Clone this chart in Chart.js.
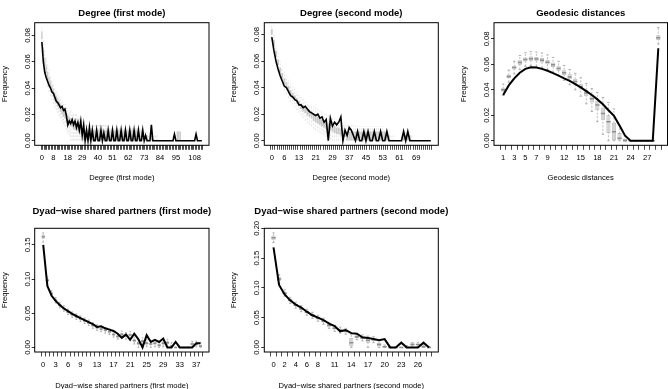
<!DOCTYPE html>
<html>
<head>
<meta charset="utf-8">
<script src="https://cdn.jsdelivr.net/npm/chart.js@4.4.1/dist/chart.umd.min.js"></script>
<style>
  html, body { margin: 0; padding: 0; background: #fff; overflow: hidden; }
  body { width: 668px; height: 389px; position: relative; }
  canvas { position: absolute; }
</style>
</head>
<body>
<script>
// ---- Degree (first mode) ----
const deg1Cats = [0,1,2,3,4,5,6,7,8,9,10,11,12,13,14,15,16,17,18,19,20,21,22,23,24,25,26,27,
  29,30,31,32,33,34,35,36,37,38,39,40,41,42,43,44,
  46,47,48,49,50,51,52,53,54,55,56,57,58,59,60,61,62,63,64,65,66,67,68,69,70,71,72,73,74,75,
  76,77,78,79,80,81,82,83,84,85,86,87,88,89,90,91,92,93,94,95,96,97,98,99,100,101,102,103,104,
  105,106,107,108,109,110,111,112,113];
const deg1Shown = [0,8,18,29,40,51,62,73,84,95,108];
const deg1Obs = [
  0.075,0.060,0.052,0.048,0.045,0.042,0.040,0.037,0.036,0.033,
  0.030,0.029,0.027,0.025,0.026,0.023,0.024,0.019,0.012,0.015,
  0.013,0.016,0.012,0.015,0.010,0.014,0.008,0.015,0.004,0.012,
  0,0.008,0,0.010,0,0.008,0,0,0.008,0,
  0,0.008,0,0.006,0,0,0.008,0,0,0.008,
  0,0,0.008,0,0,0.008,0,0,0.008,0,
  0,0.008,0,0,0.008,0,0,0.008,0,0,
  0.008,0,0.004,0,0,0,0.012,0,0,0,
  0,0,0,0,0,0,0,0,0,0,
  0,0,0.005,0,0,0,0,0,0,0,
  0,0,0,0,0,0,0,0.005,0,0,
  0,0];
const deg1Q1 = [
  0.077,0.065,0.057,0.051,0.046,0.042,0.039,0.036,0.033,0.030,
  0.028,0.026,0.024,0.022,0.020,0.018,0.017,0.015,0.014,0.012,
  0.011,0.010,0.009,0.008,0.008,0.007,0.006,0.005,0.004,0,
  0,0,0,0,0,0,0,0,0,0, 0,0,0,0,0,0,0,0,0,0,
  0,0,0,0,0,0,0,0,0,0, 0,0,0,0,0,0,0,0,0,0,
  0,0,0,0,0,0,0,0,0,0, 0,0,0,0,0,0,0,0,0,0,
  0,0,0,0,0,0,0,0,0,0, 0,0,0,0,0,0,0,0,0,0,
  0,0];
const deg1Q3 = [
  0.083,0.071,0.063,0.057,0.052,0.048,0.045,0.042,0.039,0.036,
  0.034,0.032,0.030,0.028,0.026,0.024,0.023,0.021,0.020,0.018,
  0.017,0.016,0.015,0.014,0.013,0.012,0.012,0.011,0.010,0.008,
  0.008,0.008,0.008,0.008,0.008,0.008,0.008,0.008,0.008,0.008,
  0.008,0.008,0.008,0.008,0.008,0.008,0.008,0.008,0.008,0.008,
  0.008,0.008,0.008,0.008,0.008,0.008,0.008,0.008,0.008,0.008,
  0.008,0.008,0.008,0.008,0.008,0.008,0.008,0.008,0.004,0.008,
  0.004,0.004,0.004,0.004,0,0,0.004,0,0,0,
  0,0,0,0,0,0,0,0,0,0,
  0,0,0,0,0.007,0.007,0.007,0,0,0,
  0,0,0,0,0,0,0,0,0,0,
  0,0];
const deg1Lo = [
  0.072,0.059,0.051,0.046,0.041,0.037,0.034,0.031,0.028,0.025,
  0.023,0.021,0.019,0.017,0.015,0.013,0.011,0.008,0.006,0.004,
  0,0,0,0,0,0,0,0,0,0, 0,0,0,0,0,0,0,0,0,0,
  0,0,0,0,0,0,0,0,0,0, 0,0,0,0,0,0,0,0,0,0,
  0,0,0,0,0,0,0,0,0,0, 0,0,0,0,0,0,0,0,0,0,
  0,0,0,0,0,0,0,0,0,0, 0,0,0,0,0,0,0,0,0,0,
  0,0,0,0,0,0,0,0,0,0, 0,0];
const deg1Hi = [
  0.086,0.077,0.069,0.063,0.058,0.054,0.050,0.047,0.044,0.041,
  0.039,0.037,0.035,0.033,0.031,0.029,0.028,0.026,0.025,0.023,
  0.023,0.022,0.021,0.020,0.020,0.019,0.018,0.017,0.016,0.015,
  0.013,0.013,0.013,0.013,0.013,0.013,0.012,0.012,0.012,0.012,
  0.012,0.012,0.012,0.012,0.012,0.012,0.010,0.010,0.010,0.010,
  0.010,0.010,0.010,0.010,0.010,0.010,0.010,0.010,0.010,0.010,
  0.010,0.010,0.010,0.010,0.010,0.010,0.010,0.010,0.010,0.010,
  0.008,0.008,0.008,0.008,0.004,0.004,0.008,0.004,0.004,0.004,
  0.004,0,0,0,0,0,0,0,0,0,
  0,0,0,0,0.008,0.008,0.008,0,0,0,
  0,0,0,0,0,0,0,0,0,0,
  0,0];

// ---- Degree (second mode) ----
const deg2Cats = [0,1,2,3,4,5,6,7,8,9,10,11,12,13,14,15,16,17,18,19,20,21,22,23,24,25,26,27,28,29,
  30,31,32,33,34,35,36,37,38,39,40,41,42,43,44,45,46,47,48,49,50,51,52,53,54,55,56,57,58,59,
  60,61,62,63,64,65,66,67,68,69,70,71,72,73,74,75,76];
const deg2Shown = [0,6,13,21,29,37,45,53,61,69];
const deg2Obs = [
  0.078,0.068,0.060,0.054,0.049,0.045,0.041,0.040,0.037,0.034,
  0.033,0.031,0.030,0.027,0.027,0.025,0.026,0.024,0.022,0.021,
  0.020,0.019,0.020,0.017,0.018,0.014,0.016,0,0.017,0.011,
  0.014,0.012,0.014,0.018,0,0.008,0.004,0.010,0.008,0.004,
  0,0.007,0,0,0.007,0,0.007,0,0,0.007,
  0,0,0.007,0,0,0.007,0,0,0,0,
  0,0,0,0.007,0,0.007,0,0,0,0,
  0,0,0,0,0,0,0];
const deg2Q1 = [
  0.080,0.071,0.063,0.057,0.051,0.047,0.043,0.040,0.037,0.034,
  0.032,0.030,0.028,0.026,0.024,0.022,0.021,0.019,0.018,0.017,
  0.015,0.014,0.013,0.012,0.011,0.010,0.009,0.008,0.008,0.007,
  0.006,0.005,0.005,0.004,0.004,0.003,0,0,0,0,
  0,0,0,0,0,0,0,0,0,0, 0,0,0,0,0,0,0,0,0,0,
  0,0,0,0,0,0,0,0,0,0, 0,0,0,0,0,0,0];
const deg2Q3 = [
  0.084,0.076,0.068,0.061,0.055,0.051,0.047,0.044,0.041,0.038,
  0.036,0.034,0.032,0.030,0.028,0.027,0.026,0.024,0.023,0.022,
  0.020,0.019,0.018,0.017,0.016,0.015,0.014,0.013,0.012,0.012,
  0.011,0.010,0.010,0.009,0.008,0.008,0.007,0.007,0.007,0.007,
  0.007,0.007,0.007,0.007,0.007,0.007,0.007,0.007,0.007,0.007,
  0.007,0.007,0.007,0.007,0.007,0.007,0.004,0,0,0,
  0,0,0,0.004,0.004,0.004,0.004,0,0,0,
  0,0,0,0,0,0,0];
const deg2Lo = [
  0.077,0.066,0.058,0.052,0.046,0.042,0.038,0.035,0.032,0.029,
  0.027,0.025,0.023,0.021,0.019,0.017,0.015,0.013,0.012,0.011,
  0.009,0.008,0.007,0.006,0.005,0.004,0.003,0.002,0.001,0,
  0,0,0,0,0,0,0,0,0,0, 0,0,0,0,0,0,0,0,0,0,
  0,0,0,0,0,0,0,0,0,0, 0,0,0,0,0,0,0,0,0,0,
  0,0,0,0,0,0,0];
const deg2Hi = [
  0.0865,0.080,0.072,0.066,0.060,0.056,0.052,0.049,0.046,0.043,
  0.041,0.039,0.037,0.035,0.033,0.032,0.031,0.029,0.028,0.027,
  0.026,0.025,0.024,0.023,0.022,0.021,0.020,0.019,0.018,0.018,
  0.017,0.016,0.016,0.015,0.014,0.014,0.013,0.013,0.012,0.012,
  0.011,0.011,0.011,0.011,0.011,0.011,0.011,0.011,0.011,0.011,
  0.011,0.011,0.011,0.011,0.008,0.008,0.008,0.004,0.004,0,
  0,0,0.004,0.007,0.007,0.007,0.007,0.004,0,0,
  0,0,0,0,0,0,0];

// ---- Geodesic distances ----
const geoCats = [1,2,3,4,5,6,7,8,9,10,11,12,13,14,15,16,17,18,19,20,21,22,23,24,25,26,27,28,'Inf'];
const geoShown = [1,3,5,7,9,12,15,18,21,24,27];
const geoObs = [0.036,0.0435,0.049,0.0535,0.0565,0.0578,0.0575,0.0565,0.055,0.0532,
  0.0512,0.049,0.047,0.0445,0.042,0.039,0.036,0.0325,0.0287,0.024,
  0.0195,0.012,0.004,0,0,0,0,0,0.0727];
const geoMed = [0.040,0.0505,0.0575,0.0615,0.0638,0.0645,0.0642,0.0632,0.0618,0.0598,
  0.0568,0.0535,0.0502,0.0465,0.0425,0.0375,0.0330,0.0280,0.0215,0.0150,
  0.0070,0.0020,0,0,0,0,0,0,0.081];
const geoQ1 = [0.0388,0.0492,0.0560,0.0598,0.0622,0.0628,0.0625,0.0615,0.0601,0.0580,
  0.0550,0.0516,0.0483,0.0445,0.0402,0.0350,0.0300,0.0240,0.0165,0.0060,
  0,0,0,0,0,0,0,0,0.0792];
const geoQ3 = [0.0412,0.0518,0.0590,0.0632,0.0655,0.0662,0.0658,0.0650,0.0636,0.0616,
  0.0586,0.0554,0.0522,0.0487,0.0448,0.0400,0.0360,0.0315,0.0262,0.0200,
  0.0140,0.0060,0.0015,0,0,0,0,0,0.0830];
const geoLo = [0.0355,0.0460,0.0525,0.0560,0.0585,0.0590,0.0585,0.0575,0.0560,0.0540,
  0.0510,0.0475,0.0440,0.0400,0.0350,0.0290,0.0230,0.0150,0.0050,0,
  0,0,0,0,0,0,0,0,0.0760];
const geoHi = [0.0445,0.0555,0.0625,0.0670,0.0692,0.0700,0.0697,0.0690,0.0675,0.0655,
  0.0625,0.0592,0.0560,0.0530,0.0495,0.0450,0.0410,0.0380,0.0340,0.0300,
  0.0250,0.0120,0.0040,0,0,0,0,0,0.0890];

// ---- Dyad-wise shared partners (first mode) ----
const dsp1Cats = [0,1,2,3,4,5,6,7,8,9,10,11,12,13,14,15,16,17,18,19,20,21,22,23,24,25,26,27,28,29,
  30,31,32,33,34,35,36,37,38];
const dsp1Shown = [0,3,6,9,13,17,21,25,29,33,37];
const dsp1Obs = [0.150,0.090,0.076,0.068,0.062,0.057,0.053,0.049,0.046,0.043,
  0.040,0.037,0.034,0.030,0.031,0.028,0.026,0.024,0.020,0.014,
  0.019,0.011,0.020,0.012,0,0.018,0.008,0.011,0.008,0.013,
  0,0,0.008,0,0,0,0,0.006,0.006];
const dsp1Med = [0.162,0.098,0.079,0.069,0.062,0.057,0.052,0.048,0.045,0.042,
  0.039,0.036,0.032,0.029,0.027,0.025,0.023,0.019,0.016,0.019,
  0.017,0.018,0.010,0.006,0.009,0.006,0.005,0.006,0.003,0.006,
  0.007,0.002,0,0,0,0,0.005,0.005,0.002];
const dsp1Q1 = [0.159,0.096,0.0775,0.0675,0.0605,0.0555,0.0505,0.0465,0.0435,0.0405,
  0.0375,0.0345,0.0305,0.0275,0.0255,0.0235,0.0215,0.0175,0.0145,0.0170,
  0.0150,0.0160,0.0080,0.0035,0.0070,0.0040,0.0030,0.0040,0.0010,0.0040,
  0.0050,0,0,0,0,0,0.0035,0.0035,0];
const dsp1Q3 = [0.165,0.100,0.0805,0.0705,0.0635,0.0585,0.0535,0.0495,0.0465,0.0435,
  0.0405,0.0375,0.0335,0.0305,0.0285,0.0265,0.0245,0.0205,0.0175,0.0210,
  0.0190,0.0200,0.0120,0.0085,0.0110,0.0080,0.0070,0.0080,0.0050,0.0080,
  0.0090,0.0040,0,0,0,0,0.0065,0.0065,0.0040];
const dsp1Lo = [0.154,0.093,0.075,0.065,0.058,0.053,0.048,0.044,0.041,0.038,
  0.035,0.032,0.028,0.025,0.023,0.021,0.019,0.015,0.012,0.014,
  0.012,0.013,0.005,0,0.004,0.001,0,0.001,0,0.001,
  0.002,0,0,0,0,0,0.001,0.001,0];
const dsp1Hi = [0.1676,0.103,0.083,0.073,0.066,0.061,0.056,0.052,0.049,0.046,
  0.043,0.040,0.036,0.033,0.031,0.029,0.027,0.023,0.020,0.024,
  0.022,0.023,0.015,0.011,0.014,0.011,0.010,0.011,0.008,0.011,
  0.012,0.007,0,0,0,0,0.009,0.009,0.007];

// ---- Dyad-wise shared partners (second mode) ----
const dsp2Cats = [0,1,2,3,4,5,6,7,8,9,10,11,12,13,14,15,16,17,18,19,20,21,22,23,24,25,26,27,28];
const dsp2Shown = [0,2,4,6,8,11,14,17,20,23,26];
const dsp2Obs = [0.168,0.105,0.089,0.079,0.072,0.067,0.060,0.054,0.050,0.046,
  0.040,0.036,0.027,0.029,0.024,0.023,0.017,0.016,0.014,0.012,
  0.014,0,0,0.008,0,0,0,0.008,0];
const dsp2Med = [0.184,0.115,0.091,0.079,0.071,0.065,0.059,0.054,0.049,0.044,
  0.037,0.032,0.029,0.027,0.008,0.018,0.016,0.012,0.013,0.005,
  0.001,0,0,0,0,0.005,0.005,0.001,0];
const dsp2Q1 = [0.180,0.112,0.089,0.077,0.069,0.063,0.057,0.052,0.047,0.042,
  0.035,0.030,0.027,0.025,0.002,0.016,0.014,0.008,0.011,0.002,
  0,0,0,0,0,0.004,0.004,0,0];
const dsp2Q3 = [0.188,0.118,0.093,0.081,0.073,0.067,0.061,0.056,0.051,0.046,
  0.039,0.034,0.031,0.029,0.016,0.020,0.018,0.015,0.015,0.008,
  0.002,0,0,0,0.001,0.007,0.006,0.002,0];
const dsp2Lo = [0.176,0.108,0.086,0.074,0.066,0.060,0.054,0.049,0.044,0.039,
  0.032,0.027,0.024,0.022,0,0.013,0.011,0,0.008,0,
  0,0,0,0,0,0.002,0.002,0,0];
const dsp2Hi = [0.1923,0.122,0.097,0.084,0.076,0.070,0.064,0.059,0.054,0.049,
  0.042,0.037,0.034,0.032,0.022,0.023,0.021,0.019,0.018,0.011,
  0.004,0.001,0,0,0.003,0.008,0.008,0.004,0.001];

const ticks008 = [0, 0.02, 0.04, 0.06, 0.08];
const ticks015 = [0, 0.05, 0.10, 0.15];
const ticks020 = [0, 0.05, 0.10, 0.15, 0.20];

const FONT = "'Liberation Sans', Arial, Helvetica, sans-serif";
Chart.defaults.font.family = FONT;

// caja negra alrededor del área de dibujo (como box() en R)
const framePlugin = {
  id: 'frame',
  afterDatasetsDraw(chart) {
    const a = chart.chartArea, ctx = chart.ctx;
    ctx.save();
    ctx.strokeStyle = '#000';
    ctx.lineWidth = 1;
    ctx.strokeRect(a.left, a.top, a.right - a.left, a.bottom - a.top);
    ctx.restore();
  }
};

function makePanel(p) {
  const yW = 34.6;
  const left = Math.floor(p.L - yW);
  const padL = p.L - yW - left;
  const width = Math.ceil(p.R + yW - left);
  const padR = width - (p.R + yW - left);
  const xH = p.xTitleY + 4.6 - p.B;
  const height = Math.ceil(p.B + xH - p.top);
  const padB = height - (p.B + xH - p.top);
  const tPadTop = p.titleY - p.top - 5.7;
  const tPadBottom = p.T - p.top - tPadTop - 11.4;

  const canvas = document.createElement('canvas');
  canvas.width = width;
  canvas.height = height;
  canvas.style.left = left + 'px';
  canvas.style.top = p.top + 'px';
  canvas.style.width = width + 'px';
  canvas.style.height = height + 'px';
  document.body.appendChild(canvas);

  const n = p.cats.length;
  const idx = p.cats.map((c, i) => i);
  const spacing = (p.R - p.L) / (n * 1.08);
  const whisk = [];
  idx.forEach(i => {
    whisk.push({x: i, y: p.lo[i]}, {x: i, y: p.hi[i]}, {x: i, y: null});
  });

  const datasets = [
    { type: 'line', data: idx.map(i => ({x: i, y: p.obs[i]})), borderColor: '#000',
      borderWidth: p.dense ? 1.6 : 2, pointRadius: 0, tension: 0, order: 0 },
    { type: 'bar', data: idx.map(i => ({x: i, y: [p.q1[i], p.q3[i]]})), grouped: false,
      backgroundColor: p.dense ? '#c9c9c9' : '#d4d4d4', borderColor: '#b4b4b4',
      borderWidth: p.dense ? 0 : 0.8, borderSkipped: false,
      barPercentage: p.dense ? 0.9 : 0.75, categoryPercentage: 1, order: 2 },
    { type: 'line', data: whisk, borderColor: p.dense ? '#d2d2d2' : '#adadad',
      borderWidth: p.dense ? 0.6 : 0.8,
      borderDash: [2, 1.5], pointRadius: 0, spanGaps: false, order: 4 }
  ];
  if (p.med) {
    datasets.push({ type: 'line', showLine: false, data: idx.map(i => ({x: i, y: p.med[i]})),
      pointStyle: 'line', pointRadius: spacing * 0.375, pointBorderColor: '#8f8f8f',
      pointBorderWidth: 1.5, order: 1 });
    const caps = [];
    idx.forEach(i => { caps.push({x: i, y: p.lo[i]}, {x: i, y: p.hi[i]}); });
    datasets.push({ type: 'line', showLine: false, data: caps, pointStyle: 'line',
      pointRadius: spacing * 0.22, pointBorderColor: '#a0a0a0', pointBorderWidth: 0.8, order: 3 });
  }

  new Chart(canvas, {
    type: 'bar',
    data: { datasets: datasets },
    options: {
      responsive: false,
      animation: false,
      events: [],
      layout: { padding: { left: padL, right: padR, top: 0, bottom: padB } },
      plugins: {
        legend: { display: false },
        tooltip: { enabled: false },
        title: { display: true, text: p.title, color: '#000',
          font: { family: FONT, size: 9.5, weight: 'bold' },
          padding: { top: tPadTop, bottom: tPadBottom } }
      },
      scales: {
        x: {
          type: 'linear', offset: false,
          min: -0.5 - 0.04 * n, max: n - 0.5 + 0.04 * n,
          afterBuildTicks: s => { s.ticks = idx.map(i => ({value: i})); },
          afterFit: s => { s.height = xH; },
          grid: { display: true, drawOnChartArea: false, drawTicks: true, tickLength: 4.5,
            color: '#000', lineWidth: 0.7 },
          border: { display: false },
          ticks: { autoSkip: false, maxRotation: 0, minRotation: 0, padding: 3.4, color: '#000',
            font: { family: FONT, size: 7.6 },
            callback: v => p.shown.includes(p.cats[v]) ? String(p.cats[v]) : '' },
          title: { display: true, text: p.xTitle, color: '#000',
            font: { family: FONT, size: 7.6 }, padding: 0 }
        },
        y: {
          type: 'linear', position: 'left',
          min: p.ymin, max: p.ymax,
          afterBuildTicks: s => { s.ticks = p.yTicks.map(v => ({value: v})); },
          afterFit: s => { s.width = yW; },
          grid: { display: true, drawOnChartArea: false, drawTicks: true, tickLength: 3,
            color: '#000', lineWidth: 0.8 },
          border: { display: false },
          ticks: { autoSkip: false, minRotation: 90, maxRotation: 90, crossAlign: 'center',
            padding: -3.4, color: '#000', font: { family: FONT, size: 7.6 },
            callback: v => v.toFixed(2) },
          title: { display: true, text: 'Frequency', color: '#000',
            font: { family: FONT, size: 7.6 }, padding: 0 }
        },
        yr: {
          type: 'linear', position: 'right', display: true,
          grid: { display: false }, ticks: { display: false }, border: { display: false },
          afterFit: s => { s.width = yW; }
        }
      }
    },
    plugins: [framePlugin]
  });
}

makePanel({ title: 'Degree (first mode)', xTitle: 'Degree (first mode)',
  L: 34.7, R: 209, T: 22.7, B: 145.3, top: 0, titleY: 13.5, xTitleY: 178.3,
  cats: deg1Cats, shown: deg1Shown, obs: deg1Obs, q1: deg1Q1, q3: deg1Q3, lo: deg1Lo, hi: deg1Hi,
  dense: true, ymin: -0.00345, ymax: 0.0896, yTicks: ticks008 });

makePanel({ title: 'Degree (second mode)', xTitle: 'Degree (second mode)',
  L: 264.3, R: 438.3, T: 22.7, B: 145.3, top: 0, titleY: 13.5, xTitleY: 178.3,
  cats: deg2Cats, shown: deg2Shown, obs: deg2Obs, q1: deg2Q1, q3: deg2Q3, lo: deg2Lo, hi: deg2Hi,
  dense: true, ymin: -0.0034, ymax: 0.0889, yTicks: ticks008 });

makePanel({ title: 'Geodesic distances', xTitle: 'Geodesic distances',
  L: 494, R: 667.5, T: 22.7, B: 145.3, top: 0, titleY: 13.5, xTitleY: 178.3,
  cats: geoCats, shown: geoShown, obs: geoObs, q1: geoQ1, q3: geoQ3, lo: geoLo, hi: geoHi,
  med: geoMed, ymin: -0.0036, ymax: 0.0928, yTicks: ticks008 });

makePanel({ title: 'Dyad\u2212wise shared partners (first mode)',
  xTitle: 'Dyad\u2212wise shared partners (first mode)',
  L: 34.7, R: 209, T: 228.3, B: 352, top: 195, titleY: 211, xTitleY: 385.7,
  cats: dsp1Cats, shown: dsp1Shown, obs: dsp1Obs, q1: dsp1Q1, q3: dsp1Q3, lo: dsp1Lo, hi: dsp1Hi,
  med: dsp1Med, ymin: -0.0067, ymax: 0.1743, yTicks: ticks015 });

makePanel({ title: 'Dyad\u2212wise shared partners (second mode)',
  xTitle: 'Dyad\u2212wise shared partners (second mode)',
  L: 264.3, R: 438.3, T: 228.3, B: 352, top: 195, titleY: 211, xTitleY: 385.7,
  cats: dsp2Cats, shown: dsp2Shown, obs: dsp2Obs, q1: dsp2Q1, q3: dsp2Q3, lo: dsp2Lo, hi: dsp2Hi,
  med: dsp2Med, ymin: -0.0077, ymax: 0.2000, yTicks: ticks020 });
</script>
</body>
</html>
